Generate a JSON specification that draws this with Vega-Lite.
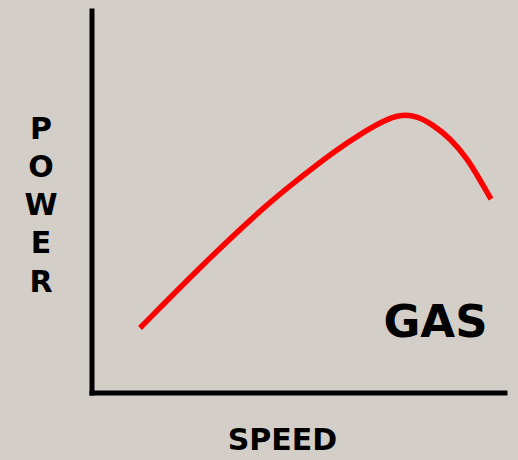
{
  "$schema": "https://vega.github.io/schema/vega-lite/v6.json",
  "width": 413,
  "height": 382,
  "autosize": {"type": "none"},
  "padding": {"left": 91.5, "top": 10.5, "right": 13.5, "bottom": 67.5},
  "background": "#d3cec8",
  "config": {
    "view": {"stroke": null},
    "axis": {"grid": false, "ticks": false, "labels": false, "domainColor": "#000000", "domainWidth": 5, "domainCap": "square",
      "titleFont": "DejaVu Sans", "titleFontWeight": "bold", "titleFontSize": 30, "titleColor": "#000000"}
  },
  "datasets": {
    "curve": [
      {"speed": 11.74, "power": 16.88},
      {"speed": 26.27, "power": 32.85},
      {"speed": 42.49, "power": 49.35},
      {"speed": 50.48, "power": 56.15},
      {"speed": 58.47, "power": 62.96},
      {"speed": 66.71, "power": 68.72},
      {"speed": 70.58, "power": 71.07},
      {"speed": 74.70, "power": 72.8},
      {"speed": 78.81, "power": 72.4},
      {"speed": 82.69, "power": 70.03},
      {"speed": 86.80, "power": 66.62},
      {"speed": 90.92, "power": 61.39},
      {"speed": 94.07, "power": 55.63},
      {"speed": 96.73, "power": 50.65}
    ],
    "label": [{"speed": 83.3, "power": 14.6, "text": "GAS"}]
  },
  "layer": [
    {
      "data": {"name": "curve"},
      "mark": {"type": "line", "color": "#ff0000", "strokeWidth": 5.5, "interpolate": "basis", "strokeCap": "butt"},
      "encoding": {
        "x": {"field": "speed", "type": "quantitative", "scale": {"domain": [0, 100], "nice": false},
          "axis": {"title": "SPEED", "titleX": 190.5, "titleY": 57.2, "titleAlign": "center", "titleBaseline": "alphabetic"}},
        "y": {"field": "power", "type": "quantitative", "scale": {"domain": [0, 100], "nice": false},
          "axis": {"title": ["P", "O", "W", "E", "R"], "titleAngle": 0, "titleX": -51, "titleY": 118.5, "titleAlign": "center", "titleBaseline": "middle", "titleLineHeight": 38.3}}
      }
    },
    {
      "data": {"name": "label"},
      "mark": {"type": "text", "font": "DejaVu Sans", "fontWeight": "bold", "fontSize": 45, "align": "center", "baseline": "alphabetic", "color": "#000000"},
      "encoding": {
        "x": {"field": "speed", "type": "quantitative"},
        "y": {"field": "power", "type": "quantitative"},
        "text": {"field": "text"}
      }
    }
  ]
}
